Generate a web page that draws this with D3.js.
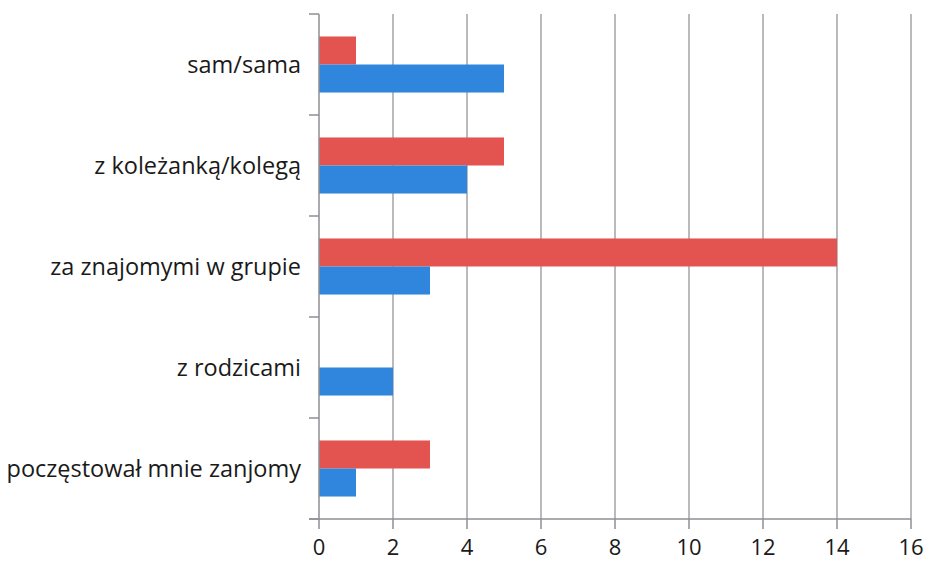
<!DOCTYPE html>
<html>
<head>
<meta charset="utf-8">
<script src="https://d3js.org/d3.v7.min.js"></script>
<style>
  body { margin: 0; background: #fff; }
  text { font-family: "Open Sans", "Noto Sans", sans-serif; fill: #1a1a1a; }
</style>
</head>
<body>
<div id="chart"></div>
<script>
  var categories = ["sam/sama", "z koleżanką/kolegą", "za znajomymi w grupie", "z rodzicami", "poczęstował mnie zanjomy"];
  var redValues = [1, 5, 14, 0, 3];
  var blueValues = [5, 4, 3, 2, 1];
  var xTicks = [0, 2, 4, 6, 8, 10, 12, 14, 16];

  var width = 926, height = 562;
  var margin = {top: 14, right: 15, bottom: 43, left: 319};

  var svg = d3.select("#chart").append("svg")
      .attr("width", width)
      .attr("height", height);

  var x = d3.scaleLinear()
      .domain([0, 16])
      .range([margin.left, width - margin.right]);

  var y = d3.scaleBand()
      .domain(categories)
      .range([margin.top, height - margin.bottom])
      .paddingInner(0.445)
      .paddingOuter(0.2225);

  var sub = d3.scaleBand()
      .domain(["red", "blue"])
      .range([0, y.bandwidth()]);

  // vertical grid lines
  svg.append("g")
    .selectAll("line")
    .data(xTicks.slice(1))
    .enter().append("line")
      .attr("x1", d => x(d)).attr("x2", d => x(d))
      .attr("y1", margin.top).attr("y2", height - margin.bottom)
      .attr("stroke", "#a3a3a8")
      .attr("stroke-width", 1.5);

  var rows = categories.map((c, i) => ({cat: c, red: redValues[i], blue: blueValues[i]}));

  svg.append("g").selectAll("rect")
    .data(rows)
    .enter().append("rect")
      .attr("x", x(0))
      .attr("y", d => y(d.cat) + sub("red"))
      .attr("width", d => x(d.red) - x(0))
      .attr("height", sub.bandwidth())
      .attr("fill", "#e3534f");

  svg.append("g").selectAll("rect")
    .data(rows)
    .enter().append("rect")
      .attr("x", x(0))
      .attr("y", d => y(d.cat) + sub("blue"))
      .attr("width", d => x(d.blue) - x(0))
      .attr("height", sub.bandwidth())
      .attr("fill", "#2f86dc");

  // y axis: line + tick marks between categories
  var yAxis = svg.append("g");
  yAxis.append("line")
    .attr("x1", x(0)).attr("x2", x(0))
    .attr("y1", margin.top).attr("y2", height - margin.bottom)
    .attr("stroke", "#8f8f94").attr("stroke-width", 1.5);
  var step = y.step();
  var bounds = d3.range(categories.length + 1).map(i => margin.top + i * step);
  yAxis.selectAll(".tk")
    .data(bounds)
    .enter().append("line")
      .attr("x1", x(0) - 10).attr("x2", x(0))
      .attr("y1", d => d).attr("y2", d => d)
      .attr("stroke", "#8f8f94").attr("stroke-width", 1.5);
  yAxis.selectAll("text")
    .data(categories)
    .enter().append("text")
      .attr("x", x(0) - 18)
      .attr("y", d => y(d) + y.bandwidth() / 2)
      .attr("dy", "0.35em")
      .attr("text-anchor", "end")
      .style("font-size", "23.5px")
      .text(d => d);

  // x axis
  var xAxis = svg.append("g");
  xAxis.append("line")
    .attr("x1", x(0) - 10).attr("x2", x(16))
    .attr("y1", height - margin.bottom).attr("y2", height - margin.bottom)
    .attr("stroke", "#8f8f94").attr("stroke-width", 1.5);
  xAxis.selectAll(".tk")
    .data(xTicks)
    .enter().append("line")
      .attr("x1", d => x(d)).attr("x2", d => x(d))
      .attr("y1", height - margin.bottom).attr("y2", height - margin.bottom + 10)
      .attr("stroke", "#8f8f94").attr("stroke-width", 1.5);
  xAxis.selectAll("text")
    .data(xTicks)
    .enter().append("text")
      .attr("x", d => x(d))
      .attr("y", height - 7)
      .attr("text-anchor", "middle")
      .style("font-size", "22px")
      .text(d => d);
</script>
</body>
</html>
